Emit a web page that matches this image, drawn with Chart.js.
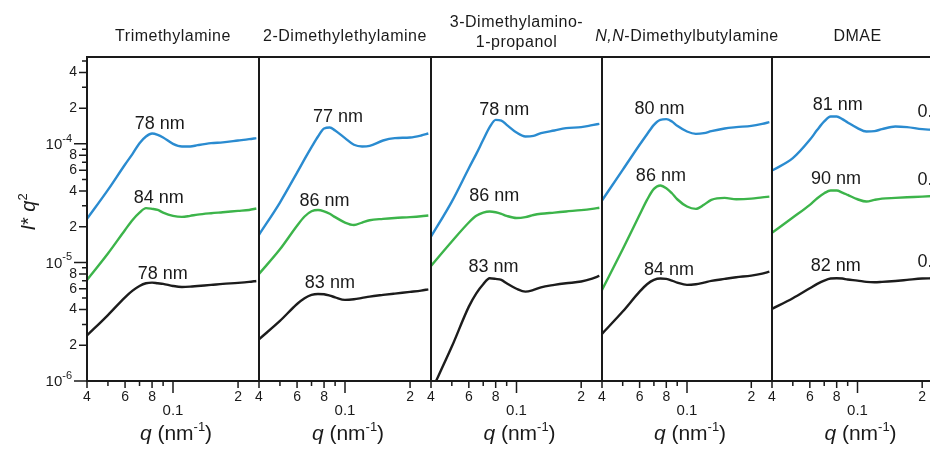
<!DOCTYPE html>
<html>
<head>
<meta charset="utf-8">
<script src="https://cdn.jsdelivr.net/npm/chart.js@4/dist/chart.umd.min.js"></script>
<style>
  html, body { margin: 0; padding: 0; background: #fff; overflow: hidden; }
  #wrap { position: relative; width: 930px; height: 449px; overflow: hidden; background: #fff; }
  #wrap canvas { position: absolute; left: 0; top: 0; }
</style>
</head>
<body>
<div id="wrap"></div>
<script>
// Scattering vector q (nm^-1) shared by every curve
const qValues = [0.04, 0.05, 0.06, 0.065, 0.07, 0.075, 0.08, 0.085, 0.09, 0.1, 0.11, 0.12, 0.13, 0.15, 0.17, 0.2, 0.225, 0.243];

// I* q^2 curves: blue (top), green (middle), black (bottom)
const trimethylamineBlue  = [2.33e-5, 4.09e-5, 6.70e-5, 8.23e-5, 1.013e-4, 1.153e-4, 1.222e-4, 1.19e-4, 1.131e-4, 1.00e-4, 9.50e-5, 9.50e-5, 9.75e-5, 1.013e-4, 1.03e-4, 1.067e-4, 1.095e-4, 1.117e-4];
const trimethylamineGreen = [7.12e-6, 1.19e-5, 1.88e-5, 2.28e-5, 2.63e-5, 2.87e-5, 2.83e-5, 2.77e-5, 2.63e-5, 2.47e-5, 2.42e-5, 2.47e-5, 2.53e-5, 2.60e-5, 2.65e-5, 2.72e-5, 2.77e-5, 2.85e-5];
const trimethylamineBlack = [2.42e-6, 3.60e-6, 5.08e-6, 5.78e-6, 6.33e-6, 6.67e-6, 6.76e-6, 6.67e-6, 6.59e-6, 6.33e-6, 6.21e-6, 6.25e-6, 6.33e-6, 6.46e-6, 6.59e-6, 6.72e-6, 6.85e-6, 6.98e-6];

const dimethylethylamineBlue  = [1.71e-5, 3.20e-5, 5.72e-5, 7.43e-5, 9.38e-5, 1.153e-4, 1.348e-4, 1.375e-4, 1.296e-4, 1.117e-4, 9.82e-5, 9.50e-5, 9.62e-5, 1.067e-4, 1.117e-4, 1.131e-4, 1.176e-4, 1.222e-4];
const dimethylethylamineGreen = [8.00e-6, 1.29e-5, 2.04e-5, 2.44e-5, 2.70e-5, 2.77e-5, 2.70e-5, 2.57e-5, 2.41e-5, 2.17e-5, 2.07e-5, 2.17e-5, 2.27e-5, 2.33e-5, 2.37e-5, 2.41e-5, 2.45e-5, 2.49e-5];
const dimethylethylamineBlack = [2.25e-6, 3.21e-6, 4.46e-6, 4.99e-6, 5.32e-6, 5.42e-6, 5.39e-6, 5.25e-6, 5.08e-6, 4.83e-6, 4.89e-6, 5.02e-6, 5.15e-6, 5.32e-6, 5.46e-6, 5.64e-6, 5.78e-6, 5.93e-6];

const propanolBlue  = [1.65e-5, 3.26e-5, 6.23e-5, 8.23e-5, 1.081e-4, 1.383e-4, 1.594e-4, 1.573e-4, 1.447e-4, 1.246e-4, 1.153e-4, 1.168e-4, 1.230e-4, 1.296e-4, 1.357e-4, 1.383e-4, 1.437e-4, 1.475e-4];
const propanolGreen = [9.34e-6, 1.50e-5, 2.17e-5, 2.47e-5, 2.63e-5, 2.69e-5, 2.65e-5, 2.57e-5, 2.47e-5, 2.37e-5, 2.41e-5, 2.51e-5, 2.57e-5, 2.63e-5, 2.69e-5, 2.76e-5, 2.83e-5, 2.89e-5];
const propanolBlack = [8.1e-7, 1.95e-6, 4.24e-6, 5.49e-6, 6.55e-6, 7.35e-6, 7.26e-6, 7.12e-6, 6.67e-6, 6.00e-6, 5.67e-6, 5.86e-6, 6.17e-6, 6.46e-6, 6.67e-6, 6.90e-6, 7.31e-6, 7.69e-6];

const butylamineBlue  = [3.33e-5, 6.03e-5, 9.82e-5, 1.206e-4, 1.447e-4, 1.594e-4, 1.615e-4, 1.543e-4, 1.419e-4, 1.271e-4, 1.214e-4, 1.230e-4, 1.280e-4, 1.348e-4, 1.383e-4, 1.419e-4, 1.475e-4, 1.524e-4];
const butylamineGreen = [5.86e-6, 1.29e-5, 2.52e-5, 3.37e-5, 4.17e-5, 4.46e-5, 4.23e-5, 3.83e-5, 3.41e-5, 2.96e-5, 2.83e-5, 3.06e-5, 3.37e-5, 3.50e-5, 3.41e-5, 3.45e-5, 3.54e-5, 3.59e-5];
const butylamineBlack = [2.50e-6, 3.85e-6, 5.67e-6, 6.55e-6, 7.12e-6, 7.31e-6, 7.26e-6, 7.03e-6, 6.76e-6, 6.46e-6, 6.55e-6, 6.76e-6, 6.98e-6, 7.26e-6, 7.50e-6, 7.74e-6, 8.05e-6, 8.37e-6];

const dmaeBlue  = [5.95e-5, 7.57e-5, 1.081e-4, 1.313e-4, 1.544e-4, 1.701e-4, 1.701e-4, 1.615e-4, 1.513e-4, 1.357e-4, 1.271e-4, 1.280e-4, 1.330e-4, 1.401e-4, 1.383e-4, 1.330e-4, 1.313e-4, 1.313e-4];
const dmaeGreen = [1.78e-5, 2.39e-5, 3.06e-5, 3.48e-5, 3.83e-5, 4.04e-5, 4.04e-5, 3.88e-5, 3.71e-5, 3.41e-5, 3.26e-5, 3.37e-5, 3.45e-5, 3.50e-5, 3.54e-5, 3.59e-5, 3.63e-5, 3.66e-5];
const dmaeBlack = [4.05e-6, 4.99e-6, 6.06e-6, 6.59e-6, 7.03e-6, 7.31e-6, 7.35e-6, 7.31e-6, 7.17e-6, 7.03e-6, 6.85e-6, 6.80e-6, 6.85e-6, 6.98e-6, 7.12e-6, 7.31e-6, 7.35e-6, 7.40e-6];

// Characteristic spacing (nm) written above each correlation peak
const trimethylaminePeaks = [78, 84, 78];
const dimethylethylaminePeaks = [77, 86, 83];
const propanolPeaks = [78, 86, 83];
const butylaminePeaks = [80, 86, 84];
const dmaePeaks = [81, 90, 82];
const dmaeEdgeLabels = ['0.', '0.', '0.'];

// Panel headings; italic runs are flagged
const panelTitles = [
  [[{ text: 'Trimethylamine' }]],
  [[{ text: '2-Dimethylethylamine' }]],
  [[{ text: '3-Dimethylamino-' }], [{ text: '1-propanol' }]],
  [[{ text: 'N,N', italic: true }, { text: '-Dimethylbutylamine' }]],
  [[{ text: 'DMAE' }]]
];

// Axis ticks
const xTickValues = [0.04, 0.05, 0.06, 0.07, 0.08, 0.09, 0.1, 0.2];
const yTickValues = [1e-6, 2e-6, 3e-6, 4e-6, 5e-6, 6e-6, 7e-6, 8e-6, 9e-6,
                     1e-5, 2e-5, 3e-5, 4e-5, 5e-5, 6e-5, 7e-5, 8e-5, 9e-5,
                     1e-4, 2e-4, 3e-4, 4e-4, 5e-4];

// ---- layout & style ----
const FONT = '"Liberation Sans", Arial, Helvetica, sans-serif';
const INK = '#1a1a1a';
const seriesColors = ['#2a8bd0', '#3cb44a', '#1c1c1c'];
const CANVAS_W = 960, CANVAS_H = 449;
const panelLeft  = [87, 259, 431, 602, 772];
const panelRight = [259, 431, 602, 772, 943];
// pixel nudges [dx, dy] for the spacing labels, per panel and curve
const labelNudge = [
  [[0, 0], [6, 0], [3, 1]],
  [[5, 0], [2, 1], [4, -1]],
  [[1, 0], [0, -5], [-4, -1]],
  [[-12, 0], [-4, 1], [2, 1]],
  [[-3, -1], [5, -2], [-4, -2]]
];

const panels = [
  { title: panelTitles[0], series: [trimethylamineBlue, trimethylamineGreen, trimethylamineBlack], peaks: trimethylaminePeaks },
  { title: panelTitles[1], series: [dimethylethylamineBlue, dimethylethylamineGreen, dimethylethylamineBlack], peaks: dimethylethylaminePeaks },
  { title: panelTitles[2], series: [propanolBlue, propanolGreen, propanolBlack], peaks: propanolPeaks },
  { title: panelTitles[3], series: [butylamineBlue, butylamineGreen, butylamineBlack], peaks: butylaminePeaks },
  { title: panelTitles[4], series: [dmaeBlue, dmaeGreen, dmaeBlack], peaks: dmaePeaks, edge: dmaeEdgeLabels }
];

function sigExp(v) {
  const e = Math.floor(Math.log10(v) + 1e-9);
  return { e, m: Math.round(v / Math.pow(10, e)) };
}
function fontOf(seg, size) {
  return (seg.italic ? 'italic ' : '') + (seg.size || size) + 'px ' + FONT;
}
function richWidth(ctx, segs, size) {
  let w = 0;
  for (const s of segs) { ctx.font = fontOf(s, size); w += ctx.measureText(s.text).width; }
  return w;
}
function drawRich(ctx, segs, x, y, align, size) {
  const w = richWidth(ctx, segs, size);
  let cx = align === 'center' ? x - w / 2 : (align === 'right' ? x - w : x);
  ctx.textAlign = 'left';
  for (const s of segs) {
    ctx.font = fontOf(s, size);
    ctx.fillText(s.text, cx, y - (s.rise || 0));
    cx += ctx.measureText(s.text).width;
  }
}

const wrap = document.getElementById('wrap');

panels.forEach((panel, p) => {
  const canvas = document.createElement('canvas');
  canvas.width = CANVAS_W; canvas.height = CANVAS_H;
  canvas.style.width = CANVAS_W + 'px'; canvas.style.height = CANVAS_H + 'px';
  wrap.appendChild(canvas);

  const decor = {
    id: 'panelDecor',
    afterDatasetsDraw(chart) {
      const { ctx, chartArea: a, scales: { x, y } } = chart;
      ctx.save();
      ctx.fillStyle = INK;
      ctx.strokeStyle = INK;

      // frame
      ctx.lineWidth = 2;
      ctx.strokeRect(a.left, a.top, a.right - a.left, a.bottom - a.top);

      // x tick marks (outward)
      ctx.lineWidth = 1.5;
      ctx.beginPath();
      xTickValues.forEach(v => {
        const { m } = sigExp(v);
        const len = m === 1 ? 12 : (m % 2 === 0 ? 7 : 5);
        const px = x.getPixelForValue(v);
        ctx.moveTo(px, a.bottom);
        ctx.lineTo(px, a.bottom + len);
      });
      ctx.stroke();

      // y tick marks and decade labels on the first panel only
      if (p === 0) {
        ctx.beginPath();
        yTickValues.forEach(v => {
          const { m } = sigExp(v);
          const len = m === 1 ? 13 : (m % 2 === 0 ? 8 : 5);
          const py = y.getPixelForValue(v);
          ctx.moveTo(a.left - len, py);
          ctx.lineTo(a.left, py);
        });
        ctx.stroke();
        ctx.textBaseline = 'middle';
        yTickValues.forEach(v => {
          const { e, m } = sigExp(v);
          if (m !== 1) return;
          const py = y.getPixelForValue(v);
          drawRich(ctx, [{ text: '10', size: 15 }, { text: String(e), size: 11, rise: 6 }], a.left - 15, py + 1, 'right', 15);
        });

        // y axis title, rotated
        ctx.save();
        ctx.translate(28, 212);
        ctx.rotate(-Math.PI / 2);
        ctx.textBaseline = 'alphabetic';
        drawRich(ctx, [{ text: 'I', italic: true }, { text: '* ' }, { text: 'q', italic: true }, { text: '2', size: 13, rise: 8 }], 0, 7, 'center', 20);
        ctx.restore();
      }

      // peak spacing labels
      ctx.textBaseline = 'alphabetic';
      ctx.textAlign = 'center';
      ctx.font = '18px ' + FONT;
      panel.series.forEach((vals, s) => {
        const d = panel.peaks[s];
        let top = 0;
        qValues.forEach((q, i) => { if (q >= 0.06 && q <= 0.1) top = Math.max(top, vals[i]); });
        const [nx, ny] = labelNudge[p][s];
        const lx = x.getPixelForValue(2 * Math.PI / d) + 7 + nx;
        const ly = y.getPixelForValue(top) - 5 + ny;
        ctx.fillText(d + ' nm', lx, ly);
      });
      if (panel.edge) {
        ctx.textAlign = 'left';
        panel.series.forEach((vals, s) => {
          const i = qValues.indexOf(0.2);
          ctx.fillText(panel.edge[s], x.getPixelForValue(0.19), y.getPixelForValue(vals[i]) - 12);
        });
      }

      // panel heading
      const cx = (a.left + a.right) / 2;
      const baselines = panel.title.length === 1 ? [41] : [27, 47];
      ctx.letterSpacing = '0.5px';
      panel.title.forEach((line, li) => drawRich(ctx, line, cx, baselines[li], 'center', 16));
      ctx.letterSpacing = '0px';

      // x axis title
      const tx = x.getPixelForValue(0.1) + 3;
      drawRich(ctx, [{ text: 'q', italic: true }, { text: ' (nm' }, { text: '-1', size: 13, rise: 9 }, { text: ')' }], tx, 440, 'center', 21);

      ctx.restore();
    }
  };

  new Chart(canvas, {
    type: 'line',
    data: {
      datasets: panel.series.map((vals, s) => ({
        data: qValues.map((q, i) => ({ x: q, y: vals[i] })),
        borderColor: seriesColors[s],
        borderWidth: 2.4,
        pointRadius: 0,
        fill: false,
        cubicInterpolationMode: 'monotone'
      }))
    },
    options: {
      responsive: false,
      animation: false,
      devicePixelRatio: 1,
      layout: { padding: { left: p === 0 ? 0 : panelLeft[p], right: CANVAS_W - panelRight[p], top: 57, bottom: 8 } },
      plugins: { legend: { display: false }, tooltip: { enabled: false }, title: { display: false } },
      scales: {
        x: {
          type: 'logarithmic',
          min: 0.04, max: 0.25,
          afterBuildTicks: sc => { sc.ticks = xTickValues.map(v => ({ value: v })); },
          afterFit: sc => { sc.height = 60; },
          grid: { display: false, drawTicks: false, tickLength: 0 },
          border: { display: false },
          ticks: {
            autoSkip: false, maxRotation: 0, minRotation: 0, padding: 8, color: INK,
            font: c => (c.tick && sigExp(c.tick.value).m === 1)
              ? { family: FONT, size: 15, lineHeight: 0.95 }
              : { family: FONT, size: 14, lineHeight: 1.2 },
            callback: v => {
              const { m } = sigExp(v);
              if (m === 1) return ['', String(v)];
              return m % 2 === 0 ? String(m) : '';
            }
          }
        },
        y: {
          type: 'logarithmic',
          display: p === 0,
          min: 1e-6, max: 5.4e-4,
          afterBuildTicks: sc => { sc.ticks = yTickValues.map(v => ({ value: v })); },
          afterFit: sc => { sc.width = p === 0 ? 87 : 0; },
          grid: { display: false, drawTicks: false, tickLength: 0 },
          border: { display: false },
          ticks: {
            autoSkip: false, padding: 10, color: INK,
            font: { family: FONT, size: 14 },
            callback: v => {
              const { m } = sigExp(v);
              return (m !== 1 && m % 2 === 0) ? String(m) : '';
            }
          }
        }
      }
    },
    plugins: [decor]
  });
});
</script>
</body>
</html>
